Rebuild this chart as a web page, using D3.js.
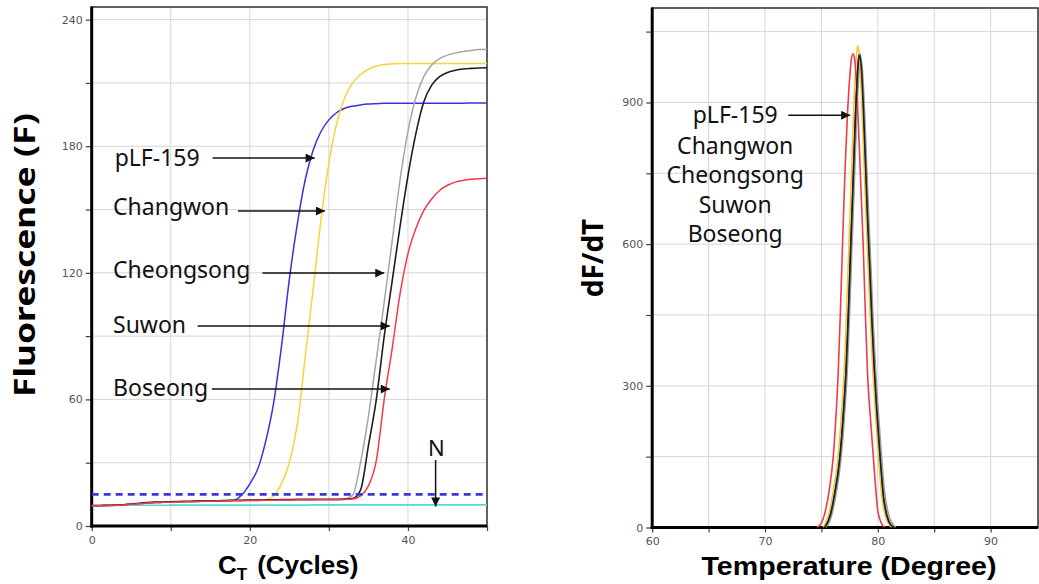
<!DOCTYPE html>
<html>
<head>
<meta charset="utf-8">
<script src="https://cdn.jsdelivr.net/npm/d3@7"></script>
<style>
  body { margin: 0; background: #fff; }
  svg { display: block; }
</style>
</head>
<body>
<svg id="chart" width="1039" height="584"></svg>
<script>
// ---------------- Amplification curves (fluorescence per cycle) ----------------
const cycles = [0,1,2,3,4,5,6,7,8,9,10,11,12,13,14,15,16,17,18,19,20,21,22,23,24,25,
  26,27,28,29,30,31,32,33,34,35,36,37,38,39,40,41,42,43,44,45,46,47,48,49,50];

const ampPLF159 = [9.6,9.6,9.7,9.8,10.0,10.3,10.6,10.9,11.1,11.2,11.3,11.4,11.5,11.6,11.7,11.7,11.8,11.9,
  12.2,14.8,20,27,40,58,85,117,143,164,178,187,192.5,196,198,199,199.6,200,200.2,
  200.4,200.4,200.4,200.4,200.4,200.4,200.4,200.4,200.4,200.4,200.4,200.5,200.5,200.5];
const ampChangwon = [9.6,9.6,9.7,9.8,10.0,10.3,10.6,10.9,11.1,11.2,11.3,11.4,11.5,11.6,11.7,11.7,11.8,11.9,
  12.0,12.1,12.2,12.3,12.5,14.2,20,30,48,80,112,145,172,191,203,210,214,216.5,218,218.7,219,
  219.2,219.2,219.2,219.2,219.2,219.2,219.2,219.2,219.2,219.2,219.2,219.2];
const ampCheongsong = [9.6,9.6,9.7,9.8,10.0,10.3,10.6,10.9,11.1,11.2,11.3,11.4,11.5,11.6,11.7,11.7,11.8,11.9,
  12.0,12.0,12.1,12.1,12.2,12.2,12.3,12.3,12.4,12.4,12.4,12.5,12.5,12.5,12.8,14.5,30,52,79,106,135,164,187,203,213,
  218.5,221.5,223.2,224.2,224.9,225.4,225.8,226];
const ampSuwon = [9.7,9.7,9.8,9.9,10.1,10.4,10.8,11.1,11.3,11.4,11.5,11.6,11.7,11.8,11.9,11.9,12.0,12.1,
  12.2,12.2,12.3,12.3,12.4,12.4,12.5,12.5,12.6,12.6,12.6,12.7,12.7,12.7,12.8,13.0,17,38,60,90,116,142,166,186,201,
  209,213,215,216,216.6,216.9,217.1,217.2];
const ampBoseong = [9.6,9.6,9.7,9.8,10.0,10.3,10.6,10.9,11.1,11.2,11.3,11.4,11.5,11.6,11.7,11.7,11.8,11.9,
  12.0,12.0,12.1,12.1,12.2,12.2,12.3,12.3,12.4,12.4,12.4,12.5,12.5,12.5,12.6,12.8,14.3,19,31,60,84,110,129,141,149.5,
  155,159,161.5,163,163.8,164.3,164.6,164.8];
const ampNegative = [9.7,9.7,9.7,9.7,9.8,9.8,9.8,9.8,9.8,9.8,9.9,9.9,9.9,9.9,9.9,9.9,9.9,9.9,9.9,9.9,
  9.9,9.9,9.9,9.9,9.9,9.9,9.9,9.9,10,10,10,10,10,10,10,10,10,10,10,10,10,10,10,10,10,10,10,10,10,10,10];
const thresholdF = 15;

// ---------------- Melting curves (dF/dT per temperature) ----------------
const meltTempBoseong = [74.6,75.0,75.3,75.7,76.05,76.3,76.5,76.7,76.9,77.1,77.3,77.5,77.65,77.8,77.95,
  78.1,78.3,78.5,78.7,78.9,79.1,79.35,79.6,80.0,80.3,80.6];
const meltBoseong = [0,10,30,80,150,240,334,470,620,760,870,950,990,1003,990,945,840,720,600,450,320,230,150,35,10,0];

const meltTempSuwon = [75.3,75.8,76.2,76.6,77.0,77.2,77.4,77.6,77.8,78.0,78.2,78.35,78.5,78.7,78.9,
  79.1,79.3,79.5,79.7,79.9,80.2,80.5,80.8,81.2,81.4];
const meltSuwon = [0,27,75,140,260,340,460,595,725,860,960,1000,985,900,775,650,540,425,330,250,150,65,25,4,0];
const meltPLF159 = [0,28,76,142,262,343,463,598,728,863,965,1005,990,904,778,653,543,428,333,252,152,66,26,4,0];

const meltTempChangwon = [75.15,75.65,76.05,76.45,76.85,77.05,77.25,77.45,77.65,77.85,78.05,78.2,78.35,
  78.55,78.75,78.95,79.15,79.35,79.55,79.75,80.05,80.35,80.65,81.05,81.25];
const meltChangwon = [0,28,77,143,265,347,470,607,740,877,980,1020,1005,918,790,663,551,434,337,255,153,66,26,4,0];

const meltTempCheongsong = [75.4,75.9,76.3,76.7,77.1,77.3,77.5,77.7,77.9,78.1,78.3,78.45,78.6,78.8,79.0,
  79.2,79.4,79.6,79.8,80.0,80.3,80.6,80.9,81.3,81.6];
const meltCheongsong = [0,25,72,138,255,335,455,590,720,855,952,992,978,895,772,655,545,430,335,258,160,75,32,8,0];

// Axis ticks
const fTicks = [0,30,60,90,120,150,180,210,240];
const cycleTicks = [0,10,20,30,40,50];
const dfTicks = [0,150,300,450,600,750,900,1050];
const tempTicks = [60,65,70,75,80,85,90];

// Sample names
const sampleNames = ["pLF-159","Changwon","Cheongsong","Suwon","Boseong"];

// ---------------- Drawing ----------------
const svg = d3.select("#chart");
const TICK_FONT = "'DejaVu Sans', sans-serif";
const LABEL_FONT = "'Noto Sans', sans-serif";
const TITLE_FONT = "'Liberation Sans', Arial, sans-serif";

const xC = d3.scaleLinear().domain([0, 50]).range([91.7, 487]);
const yF = d3.scaleLinear().domain([0, 246]).range([526, 7]);
const xT = d3.scaleLinear().domain([60, 94.2]).range([652.2, 1038]);
const yD = d3.scaleLinear().domain([0, 1100]).range([527.5, 8]);

const defs = svg.append("defs");
defs.append("clipPath").attr("id", "clipA").append("rect")
  .attr("x", xC(0)).attr("y", yF(246)).attr("width", xC(50) - xC(0)).attr("height", yF(0) - yF(246));
defs.append("clipPath").attr("id", "clipM").append("rect")
  .attr("x", xT(60)).attr("y", yD(1100)).attr("width", xT(94.2) - xT(60)).attr("height", yD(0) - yD(1100));
const marker = defs.append("marker").attr("id", "arrowHead")
  .attr("viewBox", "0 0 10 10").attr("refX", 10).attr("refY", 5)
  .attr("markerWidth", 12).attr("markerHeight", 9).attr("markerUnits", "userSpaceOnUse")
  .attr("orient", "auto");
marker.append("path").attr("d", "M0,0 L10,5 L0,10 Z").attr("fill", "#111");

const gridColor = "#d6d6d6";

function drawPanel(x, y, xTicks, yTicks, xLabelEvery, yLabelEvery) {
  const g = svg.append("g");
  const [x0, x1] = x.range();
  const [y0, y1] = y.range(); // y0 bottom, y1 top
  // grid
  g.append("g").selectAll("line").data(xTicks.filter(d => x(d) > x0 + 1 && x(d) < x1 - 1))
    .join("line").attr("x1", d => x(d)).attr("x2", d => x(d)).attr("y1", y1).attr("y2", y0)
    .attr("stroke", gridColor).attr("stroke-width", 1);
  g.append("g").selectAll("line").data(yTicks.filter(d => y(d) < y0 - 1 && y(d) > y1 + 1))
    .join("line").attr("x1", x0).attr("x2", x1).attr("y1", d => y(d)).attr("y2", d => y(d))
    .attr("stroke", gridColor).attr("stroke-width", 1);
  // frame
  g.append("rect").attr("x", x0).attr("y", y1).attr("width", x1 - x0).attr("height", y0 - y1)
    .attr("fill", "none").attr("stroke", "#3a3a3a").attr("stroke-width", 1.6);
  // axes
  const ax = g.append("g").attr("transform", `translate(0,${y0})`)
    .call(d3.axisBottom(x).tickValues(xTicks).tickSize(5).tickPadding(5)
      .tickFormat(d => d % xLabelEvery === 0 ? d : ""));
  const ay = g.append("g").attr("transform", `translate(${x0},0)`)
    .call(d3.axisLeft(y).tickValues(yTicks).tickSize(6).tickPadding(3)
      .tickFormat(d => d % yLabelEvery === 0 ? d : ""));
  [ax, ay].forEach(a => {
    a.select(".domain").remove();
    a.selectAll(".tick line").attr("stroke", "#444").attr("stroke-width", 1.2);
    a.selectAll(".tick text").attr("fill", "#555").style("font-family", TICK_FONT).style("font-size", "11px");
  });
  g.append("line").attr("x1", x0).attr("x2", x0).attr("y1", y1 - 0.5).attr("y2", y0 + 1.5)
    .attr("stroke", "#000").attr("stroke-width", 3);
  g.append("line").attr("x1", x0 - 1.5).attr("x2", x1).attr("y1", y0).attr("y2", y0)
    .attr("stroke", "#000").attr("stroke-width", 3);
  return g;
}

// ---- Amplification panel ----
drawPanel(xC, yF, cycleTicks, fTicks, 20, 60);

const ampLine = d3.line().x(d => xC(d[0])).y(d => yF(d[1])).curve(d3.curveMonotoneX);
const ampLayer = svg.append("g").attr("clip-path", "url(#clipA)").attr("fill", "none");
const ampSeries = [
  { v: ampNegative, c: "#52dada", w: 1.6 },
  { v: ampPLF159, c: "#3434dc", w: 1.5 },
  { v: ampChangwon, c: "#f5d43c", w: 1.5 },
  { v: ampCheongsong, c: "#a6a6a6", w: 1.5 },
  { v: ampSuwon, c: "#1e1e1e", w: 1.6 },
  { v: ampBoseong, c: "#f23a48", w: 1.5 }
];
ampSeries.forEach(s => {
  ampLayer.append("path").datum(cycles.map((c, i) => [c, s.v[i]]))
    .attr("d", ampLine).attr("stroke", s.c).attr("stroke-width", s.w);
});
ampLayer.append("line").attr("x1", xC(0)).attr("x2", xC(50))
  .attr("y1", yF(thresholdF)).attr("y2", yF(thresholdF))
  .attr("stroke", "#3b3bd4").attr("stroke-width", 2.6).attr("stroke-dasharray", "7,5");

// annotations (data coordinates: cycle, fluorescence)
const ampNotes = [
  { name: sampleNames[0], tx: 2.9, ty: 170.6, ax0: 15.3, ax1: 28.2, ay: 174.4 },
  { name: sampleNames[1], tx: 2.7, ty: 147.4, ax0: 18.5, ax1: 29.5, ay: 149.3 },
  { name: sampleNames[2], tx: 2.7, ty: 117.5, ax0: 21.6, ax1: 37.0, ay: 119.9 },
  { name: sampleNames[3], tx: 2.7, ty: 91.5, ax0: 13.4, ax1: 37.7, ay: 94.8 },
  { name: sampleNames[4], tx: 2.7, ty: 61.6, ax0: 15.2, ax1: 37.7, ay: 64.9 }
];
const noteG = svg.append("g");
ampNotes.forEach(n => {
  noteG.append("text").attr("x", xC(n.tx)).attr("y", yF(n.ty)).text(n.name)
    .style("font-family", LABEL_FONT).style("font-size", "23px").attr("fill", "#111");
  noteG.append("line").attr("x1", xC(n.ax0)).attr("x2", xC(n.ax1))
    .attr("y1", yF(n.ay)).attr("y2", yF(n.ay))
    .attr("stroke", "#111").attr("stroke-width", 1.5).attr("marker-end", "url(#arrowHead)");
});
noteG.append("text").attr("x", xC(43.6)).attr("y", yF(33.4)).attr("text-anchor", "middle").text("N")
  .style("font-family", LABEL_FONT).style("font-size", "22px").attr("fill", "#111");
noteG.append("line").attr("x1", xC(43.5)).attr("x2", xC(43.5)).attr("y1", yF(31.3)).attr("y2", yF(9.2))
  .attr("stroke", "#111").attr("stroke-width", 1.5).attr("marker-end", "url(#arrowHead)");

// axis titles
svg.append("text").attr("transform", "translate(35,255) rotate(-90)").attr("text-anchor", "middle")
  .attr("textLength", 284).attr("lengthAdjust", "spacingAndGlyphs")
  .style("font-family", LABEL_FONT).style("font-weight", "bold").style("font-size", "29px")
  .attr("fill", "#000").text("Fluorescence (F)");
const ct = svg.append("text").attr("x", 218).attr("y", 574)
  .style("font-family", TITLE_FONT).style("font-weight", "bold").style("font-size", "26px").attr("fill", "#000");
ct.append("tspan").text("C");
ct.append("tspan").attr("dy", 6).style("font-size", "17px").text("T");
ct.append("tspan").attr("dy", -6).attr("dx", 10).text("(Cycles)");

// ---- Melting panel ----
drawPanel(xT, yD, tempTicks, dfTicks, 10, 300);

const meltLine = d3.line().x(d => xT(d[0])).y(d => yD(d[1])).curve(d3.curveMonotoneX);
const meltLayer = svg.append("g").attr("clip-path", "url(#clipM)").attr("fill", "none");
const meltSeries = [
  { t: meltTempSuwon, v: meltPLF159, c: "#3434dc" },
  { t: meltTempCheongsong, v: meltCheongsong, c: "#9a9a9a" },
  { t: meltTempChangwon, v: meltChangwon, c: "#f3c62a" },
  { t: meltTempBoseong, v: meltBoseong, c: "#f23a48" },
  { t: meltTempSuwon, v: meltSuwon, c: "#1e1e1e" }
];
meltSeries.forEach(s => {
  meltLayer.append("path").datum(s.t.map((t, i) => [t, s.v[i]]))
    .attr("d", meltLine).attr("stroke", s.c).attr("stroke-width", 1.6);
});

const meltNoteX = 67.36;
const meltNoteY = [856, 791, 729.5, 666, 604.5];
sampleNames.forEach((n, i) => {
  svg.append("text").attr("x", xT(meltNoteX)).attr("y", yD(meltNoteY[i])).attr("text-anchor", "middle")
    .style("font-family", LABEL_FONT).style("font-size", "23px").attr("fill", "#111").text(n);
});
svg.append("line").attr("x1", xT(72.06)).attr("x2", xT(77.55)).attr("y1", yD(873)).attr("y2", yD(873))
  .attr("stroke", "#111").attr("stroke-width", 1.5).attr("marker-end", "url(#arrowHead)");

svg.append("text").attr("transform", "translate(603,258) rotate(-90)").attr("text-anchor", "middle")
  .style("font-family", LABEL_FONT).style("font-weight", "bold").style("font-size", "28px")
  .attr("fill", "#000").text("dF/dT");
svg.append("text").attr("x", 849).attr("y", 575).attr("text-anchor", "middle")
  .attr("textLength", 295).attr("lengthAdjust", "spacingAndGlyphs")
  .style("font-family", TITLE_FONT).style("font-weight", "bold").style("font-size", "25px")
  .attr("fill", "#000").text("Temperature  (Degree)");
</script>
</body>
</html>
